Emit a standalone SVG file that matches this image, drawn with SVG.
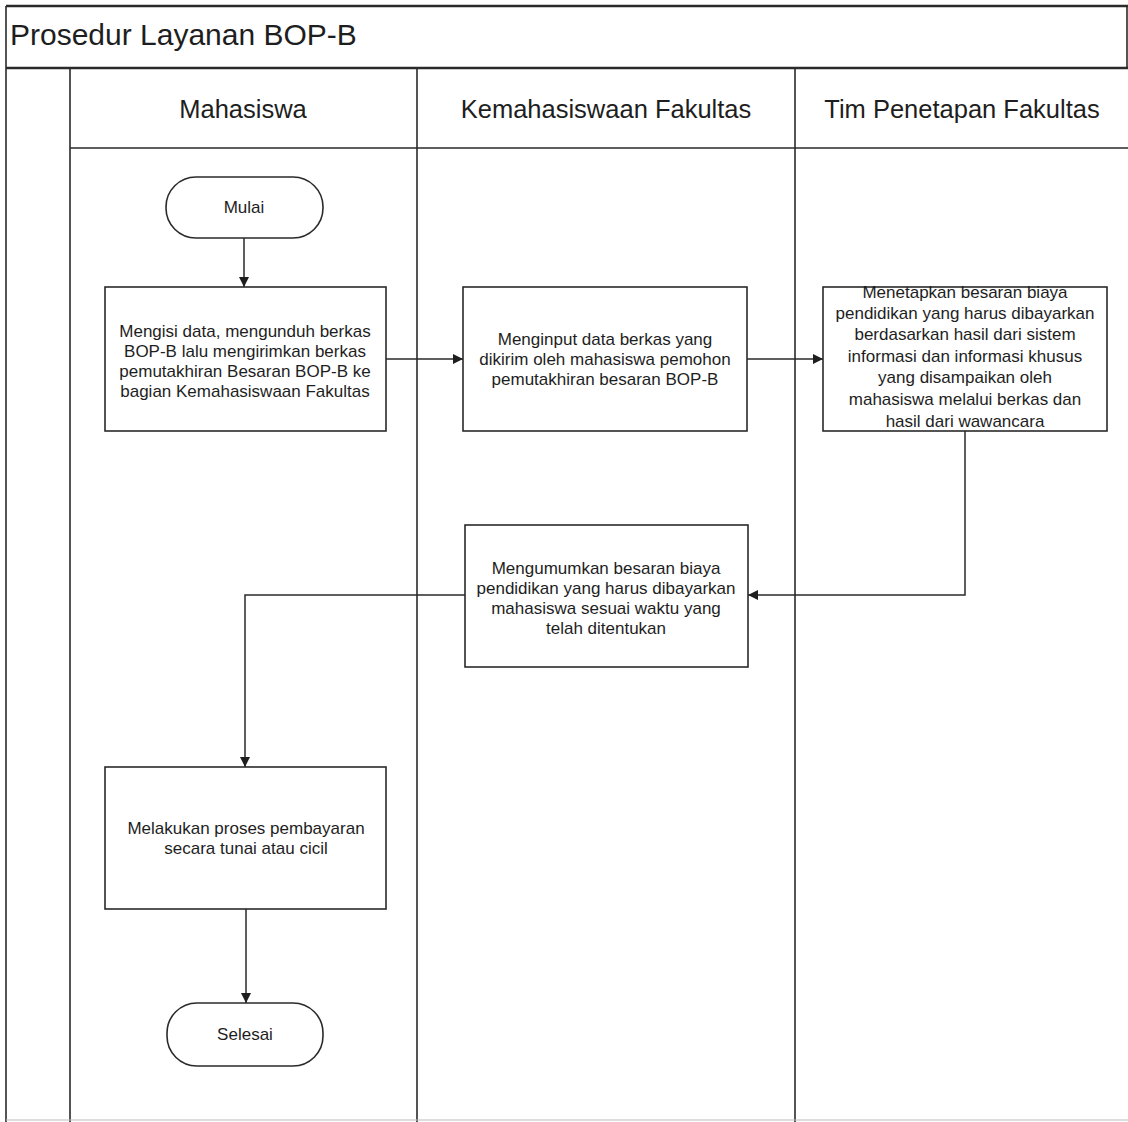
<svg xmlns="http://www.w3.org/2000/svg" width="1128" height="1122" viewBox="0 0 1128 1122">
<style>
.frame{fill:none;stroke:#2a2a2a;stroke-width:1.6}
.thick{fill:none;stroke:#2a2a2a;stroke-width:2.4}
.node{fill:#ffffff;stroke:#2a2a2a;stroke-width:1.6}
.conn{fill:none;stroke:#2a2a2a;stroke-width:1.5}
.t{font-family:"Liberation Sans",Arial,sans-serif;fill:#1e1e1e;text-anchor:middle}
.box{font-size:17px}
.hdr{font-size:25.5px}
.title{font-size:30px;text-anchor:start}
</style>
<defs>
<marker id="arr" viewBox="0 0 10 10" refX="10" refY="5" markerWidth="10" markerHeight="10" markerUnits="userSpaceOnUse" orient="auto">
<path d="M0,0 L10,5 L0,10 Z" fill="#1e1e1e"/>
</marker>
</defs>
<rect width="1128" height="1122" fill="#ffffff"/>
<g id="frame">
<line class="thick" x1="6" y1="6" x2="1128" y2="6"/>
<line class="frame" x1="6" y1="6" x2="6" y2="1122"/>
<line class="thick" x1="6" y1="68" x2="1128" y2="68"/>
<line class="frame" x1="70" y1="68" x2="70" y2="1122"/>
<line class="frame" x1="417" y1="68" x2="417" y2="1122"/>
<line class="frame" x1="795" y1="68" x2="795" y2="1122"/>
<line class="frame" x1="70" y1="148" x2="1128" y2="148"/>
<line class="frame" x1="1127" y1="6" x2="1127" y2="68"/>
<line stroke="#bbbbbb" stroke-width="1" x1="6" y1="1120" x2="1128" y2="1120"/>
<text class="t title" x="10" y="45">Prosedur Layanan BOP-B</text>
</g>
<g id="lane-mahasiswa"><text class="t hdr" x="243" y="118">Mahasiswa</text></g>
<g id="lane-kemahasiswaan"><text class="t hdr" x="606" y="118">Kemahasiswaan Fakultas</text></g>
<g id="lane-tim"><text class="t hdr" x="962" y="118">Tim Penetapan Fakultas</text></g>
<g id="connectors">
<line class="conn" x1="244" y1="238" x2="244" y2="287" marker-end="url(#arr)"/>
<line class="conn" x1="386" y1="359" x2="463" y2="359" marker-end="url(#arr)"/>
<line class="conn" x1="747" y1="359" x2="823" y2="359" marker-end="url(#arr)"/>
<polyline class="conn" points="965,431 965,595 748,595" marker-end="url(#arr)"/>
<polyline class="conn" points="465,595 245,595 245,767" marker-end="url(#arr)"/>
<line class="conn" x1="246" y1="909" x2="246" y2="1003" marker-end="url(#arr)"/>
</g>
<g id="mulai">
<rect class="node" x="166" y="177" width="157" height="61" rx="30" ry="30"/>
<text class="t box" x="244" y="213">Mulai</text>
</g>
<g id="isi-data">
<rect class="node" x="105" y="287" width="281" height="144"/>
<text class="t box" x="245" y="337">Mengisi data, mengunduh berkas</text>
<text class="t box" x="245" y="357">BOP-B lalu mengirimkan berkas</text>
<text class="t box" x="245" y="377">pemutakhiran Besaran BOP-B ke</text>
<text class="t box" x="245" y="397">bagian Kemahasiswaan Fakultas</text>
</g>
<g id="input-data">
<rect class="node" x="463" y="287" width="284" height="144"/>
<text class="t box" x="605" y="345">Menginput data berkas yang</text>
<text class="t box" x="605" y="365">dikirim oleh mahasiswa pemohon</text>
<text class="t box" x="605" y="385">pemutakhiran besaran BOP-B</text>
</g>
<g id="menetapkan">
<rect class="node" x="823" y="287" width="284" height="144"/>
<text class="t box" x="965" y="298" font-size="18">Menetapkan besaran biaya</text>
<text class="t box" x="965" y="319" font-size="18">pendidikan yang harus dibayarkan</text>
<text class="t box" x="965" y="340" font-size="18">berdasarkan hasil dari sistem</text>
<text class="t box" x="965" y="362" font-size="18">informasi dan informasi khusus</text>
<text class="t box" x="965" y="383" font-size="18">yang disampaikan oleh</text>
<text class="t box" x="965" y="405" font-size="18">mahasiswa melalui berkas dan</text>
<text class="t box" x="965" y="427" font-size="18">hasil dari wawancara</text>
</g>
<g id="mengumumkan">
<rect class="node" x="465" y="525" width="283" height="142"/>
<text class="t box" x="606" y="574">Mengumumkan besaran biaya</text>
<text class="t box" x="606" y="594">pendidikan yang harus dibayarkan</text>
<text class="t box" x="606" y="614">mahasiswa sesuai waktu yang</text>
<text class="t box" x="606" y="634">telah ditentukan</text>
</g>
<g id="pembayaran">
<rect class="node" x="105" y="767" width="281" height="142"/>
<text class="t box" x="246" y="834">Melakukan proses pembayaran</text>
<text class="t box" x="246" y="854">secara tunai atau cicil</text>
</g>
<g id="selesai">
<rect class="node" x="167" y="1003" width="156" height="63" rx="30" ry="30"/>
<text class="t box" x="245" y="1040">Selesai</text>
</g>
</svg>
